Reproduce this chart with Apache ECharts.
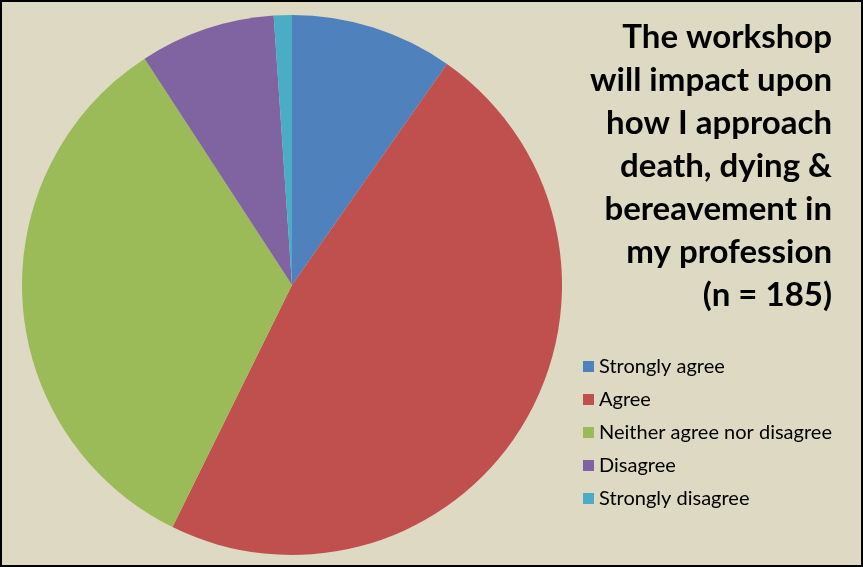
<!DOCTYPE html>
<html><head><meta charset="utf-8">
<script src="https://cdn.jsdelivr.net/npm/echarts@6/dist/echarts.min.js"></script>
<style>
html,body{margin:0;padding:0;background:#fff;}
#c{width:859px;height:563px;border:2px solid #000;background:#DDD9C3;}
</style></head>
<body><div id="c"></div>
<script>
const categories = ["Strongly agree","Agree","Neither agree nor disagree","Disagree","Strongly disagree"];
const values = [18, 88, 62, 15, 2];
const colors = ["#4F81BD","#C0504D","#9BBB59","#8064A2","#4BACC6"];
const titleLines = ["The workshop","will impact upon","how I approach","death, dying &","bereavement in","my profession","(n = 185)"];

const chart = echarts.init(document.getElementById('c'), null, {renderer:'canvas'});
chart.setOption({
  backgroundColor: '#DDD9C3',
  animation: false,
  color: colors,
  graphic: [{
    type: 'text',
    x: 830, y: 14,
    style: {
      text: titleLines.join('\n'),
      fontFamily: 'Lato', fontWeight: 'bold', fontSize: 33, lineHeight: 43,
      fill: '#000', align: 'right', verticalAlign: 'top'
    }
  }],
  legend: {
    orient: 'vertical',
    left: 576, top: 349,
    icon: 'rect', itemWidth: 11, itemHeight: 11, itemGap: 12,
    textStyle: {fontFamily: 'Lato', fontSize: 20, lineHeight: 21, color: '#000'},
    data: categories
  },
  series: [{
    type: 'pie',
    center: [290, 283],
    radius: 270,
    startAngle: 90,
    clockwise: true,
    label: {show: false},
    labelLine: {show: false},
    itemStyle: {borderWidth: 0},
    emphasis: {disabled: true},
    data: categories.map((c,i)=>({name:c, value: values[i]}))
  }]
});
</script></body></html>
